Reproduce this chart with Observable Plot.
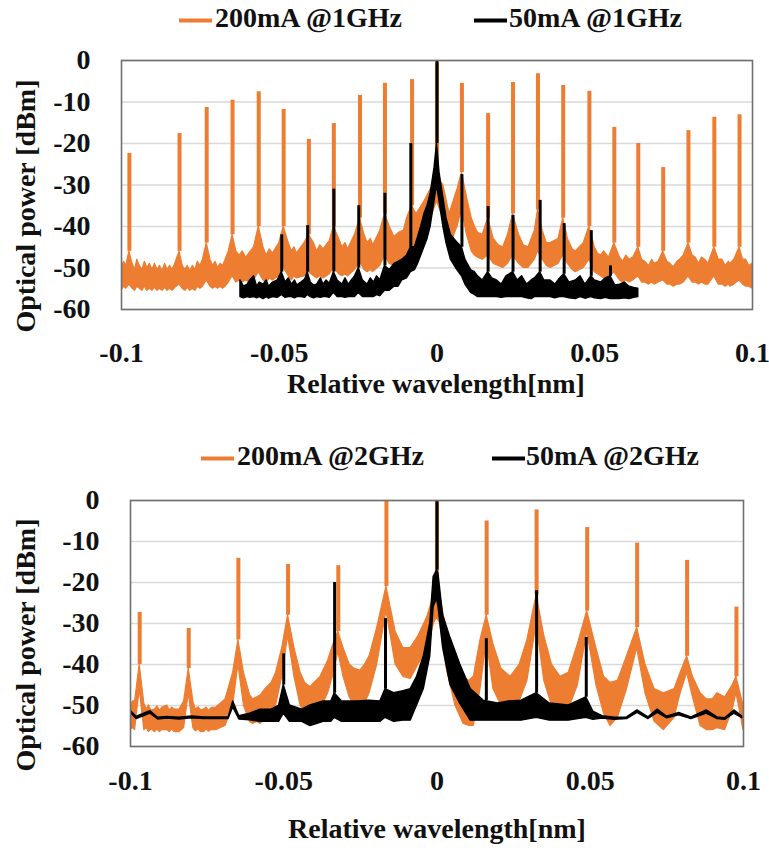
<!DOCTYPE html>
<html><head><meta charset="utf-8">
<script src="https://cdn.jsdelivr.net/npm/d3@7"></script>
<script src="https://cdn.jsdelivr.net/npm/@observablehq/plot@0.6"></script>
<style>
html,body{margin:0;padding:0;background:#fff;}
#wrap{position:relative;width:769px;height:852px;overflow:hidden;}
#wrap > svg{position:absolute;left:0;}
</style></head><body><div id="wrap"></div>
<script>
// ---------- tick labels / categories ----------
const xTicks = [-0.1, -0.05, 0, 0.05, 0.1];
const yTicks = [0, -10, -20, -30, -40, -50, -60];
const legendA = ["200mA @1GHz", "50mA @1GHz"];
const legendB = ["200mA @2GHz", "50mA @2GHz"];
const xTitle = "Relative wavelength[nm]";
const yTitle = "Optical power [dBm]";
const ORANGE = "#ED7D31", BLACK = "#000000";

// ---------- panel A (1 GHz) : comb lines [wavelength nm, peak dBm, foot dBm] ----------
const orangePeaksA = [[-0.0975,-22.4,-46],[-0.0816,-17.6,-46],[-0.073,-11.3,-44],[-0.0648,-9.6,-42],[-0.0565,-7.5,-40],
  [-0.0486,-11.8,-40],[-0.0406,-19.0,-42],[-0.0327,-15.2,-40],[-0.0244,-8.4,-38],[-0.0165,-5.5,-37],[-0.0079,-4.6,-35],
  [0,-0.5,-28],[0.0079,-5.5,-27],[0.0162,-12.8,-38],[0.0241,-5.3,-37],[0.032,-3.2,-36],[0.04,-6.0,-38],[0.0483,-7.4,-40],
  [0.0562,-16.1,-44],[0.0638,-20.0,-45],[0.0717,-25.8,-46],[0.0797,-16.9,-44],[0.0879,-13.7,-45],[0.0959,-13.1,-45]];
const blackPeaksA = [[-0.0492,-42,-51],[-0.041,-39.8,-51],[-0.0327,-31,-51],[-0.0248,-35,-50],[-0.0165,-32,-49.5],
  [-0.0083,-20,-45],[0,0,-20],[0.0079,-27.5,-45],[0.0162,-35.2,-51],[0.0241,-37.3,-51],[0.0327,-33.7,-51],
  [0.0403,-39.3,-51.5],[0.0489,-41,-52],[0.055,-49.5,-52]];
// noise floor envelope [wavelength nm, lower dBm, upper dBm]
const orangeBandA = [[-0.1,-55.5,-50],[-0.0992,-54.5,-48.5],[-0.0985,-55,-49.5],[-0.0975,-54,-46],[-0.0965,-55,-49],
  [-0.0957,-55.5,-50.5],[-0.095,-54.5,-48],[-0.0942,-55,-49.5],[-0.0934,-55.5,-50.5],[-0.0926,-54.5,-48.5],
  [-0.0918,-55.5,-50],[-0.091,-55,-49],[-0.0902,-55.5,-50.5],[-0.0894,-54.8,-49],[-0.0886,-55.5,-50.5],
  [-0.0878,-55,-49.5],[-0.087,-55.5,-50.8],[-0.0862,-54.8,-49],[-0.0854,-55.5,-50.5],[-0.0846,-55,-49.5],
  [-0.0838,-55.5,-50.5],[-0.083,-54.8,-49],[-0.0816,-54,-46],[-0.0806,-55,-49.5],[-0.0798,-55.5,-50.5],
  [-0.079,-54.8,-49.5],[-0.0782,-55.5,-50.8],[-0.0774,-55,-49.5],[-0.0766,-55.5,-50.5],[-0.0758,-54.5,-48.5],
  [-0.075,-55,-49.5],[-0.0742,-54.5,-48],[-0.073,-53,-44],[-0.0718,-54.5,-48],[-0.071,-55,-49.5],[-0.0702,-54.5,-48.5],
  [-0.0694,-55,-50],[-0.0686,-54.5,-49],[-0.0678,-55,-49.5],[-0.067,-54.5,-48],[-0.066,-53.5,-46],[-0.0648,-52,-42],
  [-0.0636,-53.5,-46],[-0.0626,-53,-47],[-0.0616,-53.5,-46],[-0.0605,-53,-47.5],[-0.0595,-53.5,-46.5],[-0.058,-53,-45],
  [-0.0565,-51,-40],[-0.055,-53,-45],[-0.054,-53.5,-47],[-0.053,-52.5,-45.5],[-0.052,-53,-46.5],[-0.05,-52,-44],
  [-0.0486,-50,-40],[-0.047,-52,-44],[-0.046,-53,-46],[-0.0452,-52,-45],[-0.0444,-52.5,-46.5],[-0.042,-52,-44],
  [-0.0406,-51,-42],[-0.039,-52,-44],[-0.038,-52.5,-46],[-0.037,-52,-44.5],[-0.036,-52.5,-45.5],[-0.034,-51.5,-43.5],
  [-0.0327,-50,-40],[-0.031,-51.5,-43],[-0.03,-52,-45],[-0.029,-51.5,-44],[-0.0282,-52,-45.5],[-0.026,-50.5,-42],
  [-0.0244,-48.5,-38],[-0.023,-50.5,-42],[-0.022,-51,-44],[-0.021,-50.5,-43],[-0.0202,-51,-44.5],[-0.018,-49.5,-41],
  [-0.0165,-47,-37],[-0.015,-49,-40],[-0.0135,-49.5,-42.5],[-0.012,-49,-41.5],[-0.0105,-48.5,-41],[-0.0095,-47,-38],
  [-0.0079,-45,-35],[-0.0065,-45,-37],[-0.004,-42,-34],[-0.002,-38,-31],[0,-34,-28],[0.002,-38,-30],[0.004,-45,-37],
  [0.0065,-40,-31],[0.0079,-36,-27],[0.0095,-42,-33],[0.011,-46,-38],[0.012,-47,-40],[0.013,-47.5,-41.5],
  [0.0145,-48,-42],[0.0162,-47,-38],[0.018,-49,-43],[0.0195,-49.5,-44.5],[0.021,-50,-45],[0.0225,-49,-42],
  [0.0241,-47,-37],[0.026,-49,-42],[0.0275,-50,-44.5],[0.029,-50,-45],[0.031,-48,-41],[0.032,-46,-36],[0.0335,-48,-41],
  [0.0348,-49.5,-44],[0.036,-50,-44],[0.0385,-49,-43],[0.04,-47,-38],[0.0415,-49,-43],[0.043,-50.5,-45.5],
  [0.044,-51,-46],[0.0465,-50,-44],[0.0483,-48,-40],[0.05,-51,-45],[0.051,-51.5,-46.5],[0.052,-52,-47],
  [0.053,-52.5,-46],[0.0545,-52.5,-47.5],[0.0562,-51,-44],[0.058,-53,-47.5],[0.059,-53.5,-48.5],[0.06,-53,-47],
  [0.061,-53.5,-48],[0.0622,-53,-47.5],[0.0638,-52,-45],[0.065,-53.5,-48],[0.066,-53.5,-48.5],[0.0672,-54,-49.5],
  [0.0682,-53.5,-48],[0.069,-54,-49],[0.0702,-53.5,-48.5],[0.0717,-53,-46],[0.073,-54,-48.5],[0.074,-54,-49],
  [0.075,-54.5,-49.8],[0.0762,-54,-48.5],[0.077,-54,-48],[0.0782,-53.5,-47],[0.0797,-52,-44],[0.081,-53.5,-47],
  [0.082,-53.5,-47.5],[0.083,-54,-49],[0.084,-53.5,-47.5],[0.085,-54,-48],[0.086,-54,-49],[0.0879,-52,-45],
  [0.0893,-54,-48],[0.0905,-54,-48],[0.0915,-54.5,-49.5],[0.0925,-54,-48.5],[0.093,-54.5,-49],[0.0942,-54,-48],
  [0.0959,-53,-45],[0.097,-54,-48],[0.098,-54.5,-48],[0.099,-54.5,-49.5],[0.1,-55,-49]];
const blackBandA = [[-0.0623,-57,-53],[-0.0612,-57.3,-54.5],[-0.06,-57,-54],[-0.0592,-57.2,-53],[-0.058,-57,-52],
  [-0.057,-57.3,-54.5],[-0.0562,-57,-53.5],[-0.055,-57.5,-54],[-0.054,-57,-53],[-0.0532,-57.4,-54.5],[-0.052,-57,-53.5],
  [-0.0505,-57.2,-53],[-0.0492,-56.5,-51],[-0.048,-57.2,-53.5],[-0.047,-57,-52.5],[-0.046,-57,-54],[-0.045,-57.3,-53],
  [-0.0443,-57,-54.2],[-0.043,-57,-53.5],[-0.0418,-57.2,-52.8],[-0.041,-56.5,-51],[-0.04,-57,-53.5],[-0.039,-57.3,-54.2],
  [-0.038,-57,-54],[-0.0368,-57.2,-52.5],[-0.036,-57,-54],[-0.035,-57,-53],[-0.034,-57.2,-53.8],[-0.0327,-56,-51],
  [-0.0315,-57,-53],[-0.03,-57,-54],[-0.029,-57.2,-52.5],[-0.028,-57,-54],[-0.027,-57,-53],[-0.026,-57,-52],
  [-0.0248,-56,-50],[-0.0235,-57,-53],[-0.022,-57,-54],[-0.021,-57,-52.5],[-0.02,-57,-53.5],[-0.019,-56.5,-52],
  [-0.018,-56.8,-53],[-0.0165,-55.5,-49.5],[-0.015,-55.5,-50.5],[-0.0135,-54.5,-49],[-0.0122,-54.5,-48.5],
  [-0.011,-53,-48],[-0.0095,-52.5,-47],[-0.0083,-51,-45],[-0.007,-50.5,-45],[-0.006,-49,-42.5],[-0.005,-47,-40],
  [-0.004,-45,-37],[-0.003,-43,-35],[-0.002,-40,-32],[-0.0008,-34,-26],[0,-30,-20],[0.0008,-34,-27],[0.002,-40,-33],
  [0.003,-44,-38],[0.0044,-48,-42],[0.006,-50,-43.5],[0.0079,-52,-45],[0.009,-54,-48],[0.0108,-56,-50.5],
  [0.012,-56.5,-51],[0.013,-57,-52],[0.0145,-57,-53],[0.0162,-57,-51],[0.0175,-57,-52.5],[0.019,-57,-53],
  [0.0205,-57.2,-54],[0.022,-57,-52],[0.0241,-57,-51],[0.0255,-57,-53],[0.027,-57,-52],[0.0285,-57.3,-54],
  [0.03,-57.5,-53],[0.031,-57,-52.5],[0.0327,-57,-51],[0.034,-57,-53],[0.036,-57,-53],[0.0375,-57.3,-54],
  [0.039,-57,-52.5],[0.0403,-57,-51.5],[0.042,-57.3,-53.5],[0.044,-57.5,-53],[0.0455,-57,-52],[0.047,-57.4,-54],
  [0.0489,-57,-52],[0.05,-57.3,-53],[0.052,-57.5,-53.5],[0.0535,-57.2,-52.5],[0.055,-57.5,-52],[0.0565,-57.4,-54.2],
  [0.058,-57.5,-54],[0.0595,-57.3,-53.5],[0.061,-57.5,-54.5],[0.0625,-57.2,-54.8],[0.0638,-57,-55]];

// ---------- panel B (2 GHz) ----------
const orangePeaksB = [[-0.097,-27.3,-40],[-0.081,-31.2,-41],[-0.0648,-14.1,-34],[-0.0486,-15.6,-28],[-0.0322,-15.9,-32],
  [-0.0165,0,-21],[0,0,-21],[0.0162,-5.0,-28],[0.0325,-2.3,-23],[0.049,-6.6,-27],[0.0653,-10.4,-31],[0.0816,-14.6,-38],
  [0.0977,-26,-43]];
const blackPeaksB = [[-0.05,-37.4,-45],[-0.0334,-20,-47],[-0.0168,-28.8,-46],[0,0,-17],[0.0161,-33.7,-48.8],
  [0.0325,-22,-47],[0.0487,-33.4,-48]];
const orangeBandB = [[-0.1,-56,-50.5],[-0.0992,-55.5,-49],[-0.0985,-56,-49],[-0.097,-46,-40],[-0.0955,-56,-49.5],
  [-0.0947,-55.5,-51],[-0.094,-56.5,-50],[-0.0932,-55.8,-51.2],[-0.092,-56.5,-51],[-0.0912,-55.8,-50.2],
  [-0.0904,-56.5,-51.3],[-0.0896,-56,-50.5],[-0.088,-56,-50],[-0.0872,-56.5,-51.2],[-0.0864,-55.8,-50.5],
  [-0.0856,-56.5,-51],[-0.084,-56.5,-51],[-0.0825,-55.5,-49],[-0.081,-47,-41],[-0.0795,-55.5,-49],[-0.0787,-56.3,-51],
  [-0.0778,-55.8,-50.4],[-0.077,-56.5,-51.2],[-0.076,-56.5,-51],[-0.0752,-55.8,-50.5],[-0.0744,-56.4,-51.3],
  [-0.0735,-56,-50.6],[-0.072,-56,-50.5],[-0.0705,-55.5,-49.5],[-0.069,-55,-48.5],[-0.0665,-50,-42],[-0.0648,-40,-34],
  [-0.063,-50,-42],[-0.061,-54,-47.5],[-0.06,-54.5,-48.5],[-0.0587,-54,-48],[-0.0575,-54.5,-47.5],[-0.056,-53,-46],
  [-0.054,-52,-44.5],[-0.0525,-50,-42],[-0.0505,-43,-36],[-0.0486,-33,-28],[-0.0465,-43,-36],[-0.0445,-50,-42],
  [-0.043,-52.5,-44.5],[-0.0413,-54,-45.5],[-0.04,-53,-44.5],[-0.038,-51,-43],[-0.0355,-47,-39],[-0.034,-43,-35.5],
  [-0.0322,-37,-32],[-0.0305,-43,-36],[-0.0285,-48,-40],[-0.027,-50,-41],[-0.025,-51,-41.5],[-0.0235,-49.5,-40],
  [-0.022,-47,-38],[-0.0195,-40,-31],[-0.0165,-27,-21],[-0.0135,-40,-32],[-0.011,-43,-36],[-0.0086,-43.5,-36],
  [-0.006,-40,-33],[-0.0032,-36.5,-28.5],[-0.001,-30,-23],[0,-28.5,-21],[0.001,-30,-23],[0.0033,-41.5,-32.5],
  [0.006,-50,-40],[0.0087,-54.5,-43],[0.0105,-55,-44],[0.012,-55,-43],[0.0142,-46,-34],[0.0162,-34,-28],
  [0.0184,-46,-35],[0.021,-50,-41],[0.024,-51,-43],[0.027,-49,-40],[0.0295,-44,-34],[0.0325,-30,-23],[0.035,-44,-33],
  [0.0375,-50,-40],[0.0403,-53,-43],[0.043,-51,-42],[0.046,-45,-35],[0.049,-32,-27],[0.052,-45,-36],[0.0545,-52,-43],
  [0.0566,-55,-44.5],[0.059,-53,-44],[0.062,-46,-38],[0.0653,-36,-31],[0.068,-47,-40],[0.071,-54,-46],[0.074,-56,-47],
  [0.0775,-53,-46],[0.0795,-47,-42],[0.0816,-42,-38],[0.0835,-48,-43],[0.086,-55,-47],[0.088,-56,-48.5],
  [0.09,-56,-48.5],[0.0915,-55.5,-47],[0.094,-56,-48],[0.0965,-51,-45],[0.0977,-47,-43],[0.099,-52,-47],[0.1,-56,-50]];
const blackBandB = [[-0.1,-51.8,-51.2],[-0.098,-53.3,-52.8],[-0.097,-53,-52.4],[-0.0935,-52,-51.4],[-0.091,-53.4,-53],
  [-0.088,-53.2,-52.8],[-0.084,-53.4,-53],[-0.08,-53.1,-52.7],[-0.076,-53.3,-52.9],[-0.072,-53.3,-52.9],
  [-0.068,-53.3,-52.9],[-0.0665,-50.5,-49],[-0.0645,-53.4,-52.6],[-0.061,-53.6,-52],[-0.0576,-54,-51],[-0.054,-54,-51],
  [-0.0515,-54,-50],[-0.05,-52,-45],[-0.048,-54,-50],[-0.044,-54,-51],[-0.0413,-55,-50],[-0.037,-54,-49],
  [-0.0345,-54,-49],[-0.0334,-53,-47],[-0.031,-54,-49],[-0.026,-54,-49],[-0.022,-54,-48.8],[-0.0185,-54,-49],
  [-0.0168,-53,-46],[-0.014,-54,-47],[-0.011,-53.7,-46.5],[-0.0086,-53.7,-46],[-0.0065,-50,-43],[-0.0043,-46,-38],
  [-0.0022,-38,-30],[-0.0011,-26,-18.7],[0,-24,-17],[0.0005,-26,-18],[0.002,-36,-28],[0.0044,-45,-33.5],
  [0.0076,-49.6,-40],[0.011,-53.7,-46],[0.0152,-53.7,-48.8],[0.0199,-53.7,-49.5],[0.0235,-53.7,-49],[0.0276,-53.7,-48.8],
  [0.0325,-53,-47],[0.0368,-53.7,-49.5],[0.043,-53.7,-50],[0.0487,-53,-48],[0.051,-53.5,-51.5],[0.054,-53.2,-52.6],
  [0.058,-53.5,-53],[0.062,-53.3,-52.9],[0.0654,-51.8,-51.2],[0.069,-53.3,-52.9],[0.072,-51.8,-51],
  [0.075,-53.1,-52.7],[0.079,-52.4,-51.8],[0.083,-53.3,-52.9],[0.088,-52,-51.2],[0.0915,-53.3,-52.9],
  [0.094,-53.5,-53.1],[0.097,-52,-51.2],[0.0996,-53.1,-52.7]];

// ---------- drawing ----------
const FONT = "'Liberation Serif', 'Times New Roman', serif";
function panel(cfg) {
  const area = (data, color, sw) => Plot.areaY(data, {x: d => d[0], y1: d => d[1], y2: d => d[2],
    fill: color, stroke: color, strokeWidth: sw, strokeLinejoin: "round", curve: "linear", clip: true});
  const peaks = (data, color, w) => Plot.ruleX(data, {x: d => d[0], y1: d => d[2], y2: d => d[1],
    stroke: color, strokeWidth: w, clip: true});
  return Plot.plot({
    width: 769, height: cfg.height,
    marginTop: cfg.mt, marginBottom: cfg.mb, marginLeft: cfg.ml, marginRight: cfg.mr,
    style: {fontFamily: FONT, fontWeight: "bold", fontSize: "28px", color: "#111", background: "transparent", overflow: "visible"},
    x: {domain: [-0.1, 0.1]},
    y: {domain: [-60, 0]},
    marks: [
      Plot.gridY(yTicks, {stroke: "#d9d9d9", strokeOpacity: 1, strokeWidth: 1.5}),
      area(cfg.orangeBand, ORANGE, 1.2),
      peaks(cfg.orangePeaks, ORANGE, 4),
      area(cfg.blackBand, BLACK, 1.4),
      peaks(cfg.blackPeaks, BLACK, 3),
      Plot.frame({stroke: "#707070", strokeWidth: 1.6}),
      Plot.axisX(xTicks, {tickSize: 0, tickPadding: cfg.xpad, tickFormat: d => String(d), label: null,
        fontSize: 28, fontWeight: "bold", fill: "#111"}),
      Plot.axisY(yTicks, {tickSize: 0, tickPadding: 31, tickFormat: d => String(d), label: null,
        fontSize: 28, fontWeight: "bold", fill: "#111"})
    ]
  });
}

const wrap = document.getElementById("wrap");
const svgA = panel({height: 420, mt: 60, mb: 111, ml: 121, mr: 17, xpad: 33,
  orangeBand: orangeBandA, orangePeaks: orangePeaksA, blackBand: blackBandA, blackPeaks: blackPeaksA});
svgA.style.top = "0px";
wrap.appendChild(svgA);
const svgB = panel({height: 422, mt: 70, mb: 106, ml: 130, mr: 26, xpad: 24,
  orangeBand: orangeBandB, orangePeaks: orangePeaksB, blackBand: blackBandB, blackPeaks: blackPeaksB});
svgB.style.top = "430px";
wrap.appendChild(svgB);

// overlay with legends and axis titles (real text)
const ov = d3.select(wrap).append("svg").attr("width", 769).attr("height", 852)
  .style("top", "0px").style("pointer-events", "none")
  .attr("font-family", FONT).attr("font-weight", "bold").attr("font-size", 28).attr("fill", "#111");
function legend(labels, y, items) {
  labels.forEach((lab, i) => {
    const it = items[i];
    ov.append("rect").attr("x", it.sx).attr("y", y - 8.5).attr("width", it.sw).attr("height", 4)
      .attr("fill", i === 0 ? ORANGE : BLACK);
    ov.append("text").attr("x", it.tx).attr("y", y).text(lab);
  });
}
legend(legendA, 27, [{sx: 179, sw: 33, tx: 215}, {sx: 474, sw: 33, tx: 509}]);
legend(legendB, 465, [{sx: 201, sw: 33, tx: 237}, {sx: 492, sw: 33, tx: 526}]);
ov.append("text").attr("x", 436).attr("y", 393).attr("text-anchor", "middle").text(xTitle);
ov.append("text").attr("x", 437).attr("y", 838).attr("text-anchor", "middle").text(xTitle);
ov.append("text").attr("transform", "translate(35,206) rotate(-90)").attr("text-anchor", "middle").text(yTitle);
ov.append("text").attr("transform", "translate(35,645) rotate(-90)").attr("text-anchor", "middle").text(yTitle);
</script></body></html>
